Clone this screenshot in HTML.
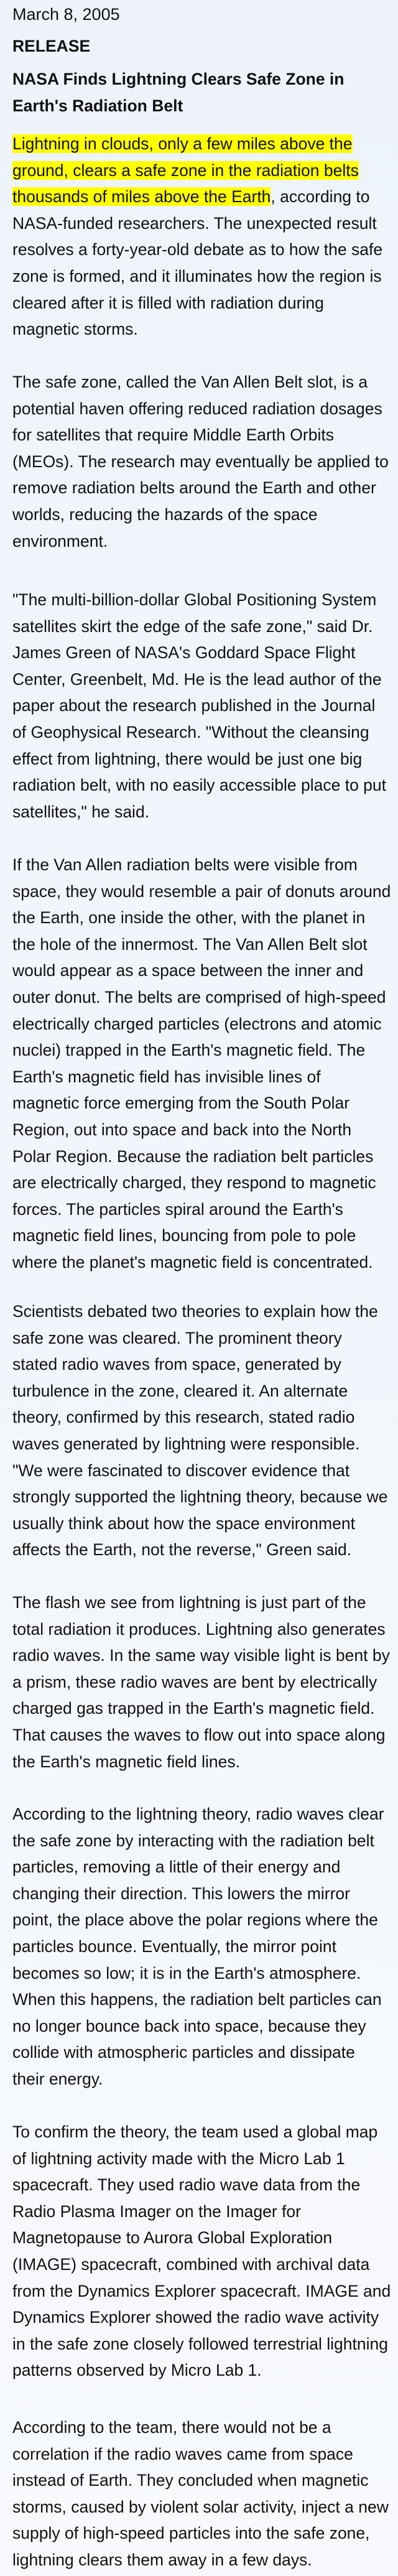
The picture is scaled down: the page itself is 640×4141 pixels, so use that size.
<!DOCTYPE html>
<html><head><meta charset="utf-8"><style>
html,body{margin:0;padding:0}
body{width:640px;height:4141px;background:linear-gradient(#eef3fb,#f3f7fc 60%,#f7f9fd);position:relative;overflow:hidden;font-family:"Liberation Sans",Arial,sans-serif;color:#111}
.p{position:absolute;left:20px;white-space:nowrap;font-size:26.5px;line-height:42.6px}
.b{font-weight:bold}
.hl{background:#ffff00}
</style></head><body>
<div class="p" style="top:2px;font-size:27px">March 8, 2005</div>
<div class="p b" style="top:53px">RELEASE</div>
<div class="p b" style="top:106px;line-height:43px">NASA Finds Lightning Clears Safe Zone in<br>Earth's Radiation Belt</div>
<div class="p" style="top:210px"><span class="hl">Lightning in clouds, only a few miles above the<br>ground, clears a safe zone in the radiation belts<br>thousands of miles above the Earth</span>, according to<br>NASA-funded researchers. The unexpected result<br>resolves a forty-year-old debate as to how the safe<br>zone is formed, and it illuminates how the region is<br>cleared after it is filled with radiation during<br>magnetic storms.</div>
<div class="p" style="top:593px">The safe zone, called the Van Allen Belt slot, is a<br>potential haven offering reduced radiation dosages<br>for satellites that require Middle Earth Orbits<br>(MEOs). The research may eventually be applied to<br>remove radiation belts around the Earth and other<br>worlds, reducing the hazards of the space<br>environment.</div>
<div class="p" style="top:943px">"The multi-billion-dollar Global Positioning System<br>satellites skirt the edge of the safe zone," said Dr.<br>James Green of NASA's Goddard Space Flight<br>Center, Greenbelt, Md. He is the lead author of the<br>paper about the research published in the Journal<br>of Geophysical Research. "Without the cleansing<br>effect from lightning, there would be just one big<br>radiation belt, with no easily accessible place to put<br>satellites," he said.</div>
<div class="p" style="top:1369px">If the Van Allen radiation belts were visible from<br>space, they would resemble a pair of donuts around<br>the Earth, one inside the other, with the planet in<br>the hole of the innermost. The Van Allen Belt slot<br>would appear as a space between the inner and<br>outer donut. The belts are comprised of high-speed<br>electrically charged particles (electrons and atomic<br>nuclei) trapped in the Earth's magnetic field. The<br>Earth's magnetic field has invisible lines of<br>magnetic force emerging from the South Polar<br>Region, out into space and back into the North<br>Polar Region. Because the radiation belt particles<br>are electrically charged, they respond to magnetic<br>forces. The particles spiral around the Earth's<br>magnetic field lines, bouncing from pole to pole<br>where the planet's magnetic field is concentrated.</div>
<div class="p" style="top:2087px">Scientists debated two theories to explain how the<br>safe zone was cleared. The prominent theory<br>stated radio waves from space, generated by<br>turbulence in the zone, cleared it. An alternate<br>theory, confirmed by this research, stated radio<br>waves generated by lightning were responsible.<br>"We were fascinated to discover evidence that<br>strongly supported the lightning theory, because we<br>usually think about how the space environment<br>affects the Earth, not the reverse," Green said.</div>
<div class="p" style="top:2555px">The flash we see from lightning is just part of the<br>total radiation it produces. Lightning also generates<br>radio waves. In the same way visible light is bent by<br>a prism, these radio waves are bent by electrically<br>charged gas trapped in the Earth's magnetic field.<br>That causes the waves to flow out into space along<br>the Earth's magnetic field lines.</div>
<div class="p" style="top:2895px">According to the lightning theory, radio waves clear<br>the safe zone by interacting with the radiation belt<br>particles, removing a little of their energy and<br>changing their direction. This lowers the mirror<br>point, the place above the polar regions where the<br>particles bounce. Eventually, the mirror point<br>becomes so low; it is in the Earth's atmosphere.<br>When this happens, the radiation belt particles can<br>no longer bounce back into space, because they<br>collide with atmospheric particles and dissipate<br>their energy.</div>
<div class="p" style="top:3406px">To confirm the theory, the team used a global map<br>of lightning activity made with the Micro Lab 1<br>spacecraft. They used radio wave data from the<br>Radio Plasma Imager on the Imager for<br>Magnetopause to Aurora Global Exploration<br>(IMAGE) spacecraft, combined with archival data<br>from the Dynamics Explorer spacecraft. IMAGE and<br>Dynamics Explorer showed the radio wave activity<br>in the safe zone closely followed terrestrial lightning<br>patterns observed by Micro Lab 1.</div>
<div class="p" style="top:3881px">According to the team, there would not be a<br>correlation if the radio waves came from space<br>instead of Earth. They concluded when magnetic<br>storms, caused by violent solar activity, inject a new<br>supply of high-speed particles into the safe zone,<br>lightning clears them away in a few days.</div>
</body></html>
